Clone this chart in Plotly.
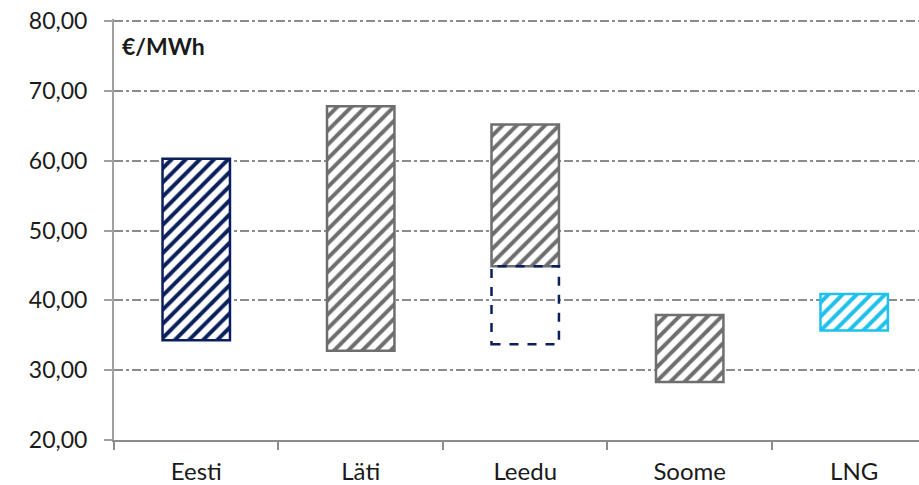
import plotly.graph_objects as go

categories = ["Eesti", "Läti", "Leedu", "Soome", "LNG"]
low_values = [34.3, 32.8, 44.9, 28.3, 35.7]
high_values = [60.3, 67.8, 65.2, 37.9, 40.9]
bar_colors = ["#0a1f5c", "#6e6e6e", "#6e6e6e", "#6e6e6e", "#1ec0ec"]

dashed_category = "Leedu"
dashed_low = 33.7
dashed_high = 44.9

y_ticks = [20, 30, 40, 50, 60, 70, 80]

BAR_W = 0.41
FONT = "Lato"

fig = go.Figure()

for cat, lo, hi, col in zip(categories, low_values, high_values, bar_colors):
    fig.add_trace(go.Bar(
        x=[cat], y=[hi - lo], base=[lo], width=BAR_W,
        marker=dict(
            color="white",
            line=dict(color=col, width=2.5),
            pattern=dict(shape="/", fgcolor=col, fgopacity=1, bgcolor="white",
                         size=10, solidity=0.4),
        ),
        showlegend=False, hoverinfo="skip",
    ))

idx = categories.index(dashed_category)
fig.add_shape(
    type="rect", xref="x", yref="y",
    x0=idx - BAR_W / 2, x1=idx + BAR_W / 2, y0=dashed_low, y1=dashed_high,
    line=dict(color="#0a1f5c", width=2.5, dash="dash"),
    fillcolor="rgba(0,0,0,0)", layer="above",
)

fig.add_annotation(
    text="<b>€/MWh</b>", xref="paper", yref="paper", x=0.008, y=0.937,
    xanchor="left", yanchor="middle", showarrow=False,
    font=dict(family=FONT, size=23, color="#1a1a1a"),
)

fig.update_layout(
    width=919, height=485,
    margin=dict(l=114, r=0, t=19, b=45),
    plot_bgcolor="white", paper_bgcolor="white",
    separators=", ",
    barmode="overlay",
    font=dict(family=FONT, size=22, color="#1a1a1a"),
    xaxis=dict(
        type="category", categoryorder="array", categoryarray=categories,
        range=[-0.5, 4.394], automargin=False,
        showline=True, linecolor="#8c8c8c", linewidth=2,
        tickson="boundaries", ticks="outside", ticklen=8, tickcolor="#8c8c8c", tickwidth=2,
        showgrid=False, tickfont=dict(family=FONT, size=24), ticklabelstandoff=9,
    ),
    yaxis=dict(
        range=[20, 80.3], tickvals=y_ticks, tickformat=".2f", automargin=False,
        showline=True, linecolor="#a0a0a0", linewidth=2,
        ticks="outside", ticklen=8, tickcolor="#a0a0a0", tickwidth=2,
        showgrid=True, gridcolor="#8c8c8c", gridwidth=1.5, griddash="dashdot",
        zeroline=False, ticklabelstandoff=12, tickfont=dict(family=FONT, size=23),
    ),
)

# remove the default 8px page margin so the figure sits at the window's top-left corner
fig.write_html("out.html", config={"displayModeBar": False},
               post_script="document.body.style.margin='0';")
